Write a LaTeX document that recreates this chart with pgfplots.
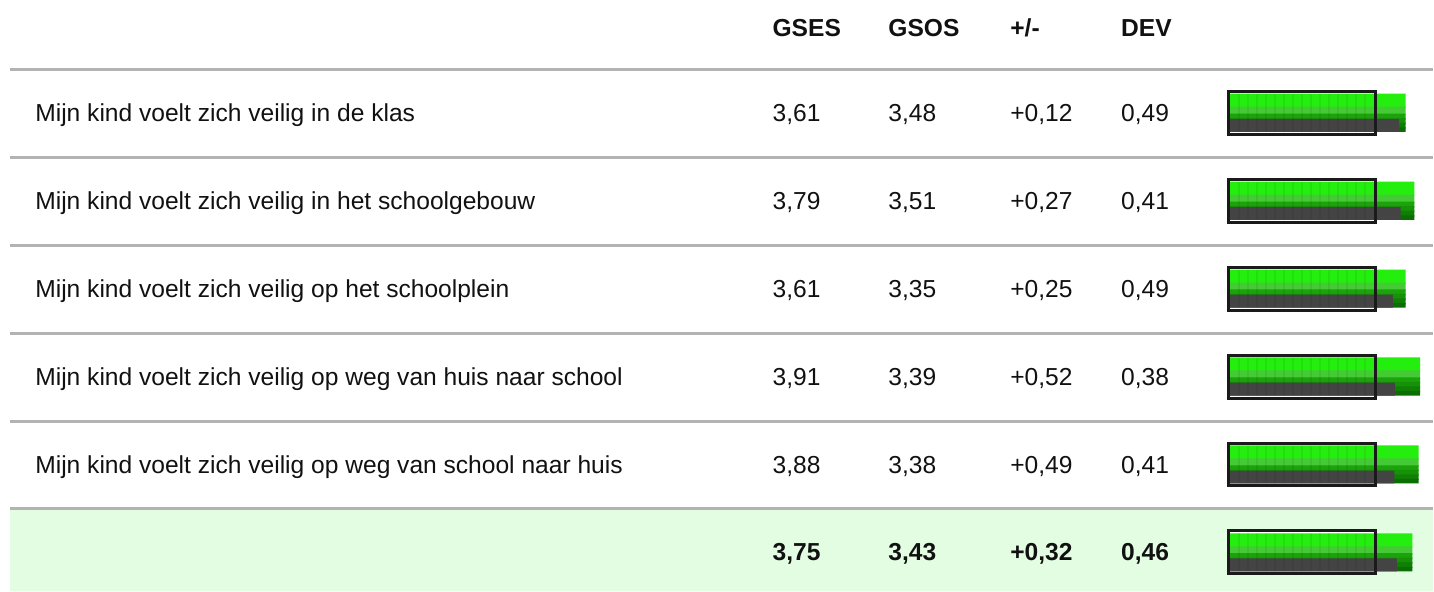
\documentclass[border=0pt]{standalone}
\usepackage{fontspec}
\setmainfont{Liberation Sans}
\usepackage{pgfplots}
\usepackage{pgfplotstable}
\pgfplotsset{compat=1.18}
\definecolor{sep}{HTML}{B3B3B3}
\definecolor{band}{HTML}{E3FDE3}
\definecolor{gbright}{HTML}{24EE0E}
\definecolor{gmid}{HTML}{44CA34}
\definecolor{gd1}{HTML}{1CA20A}
\definecolor{gd2}{HTML}{169208}
\definecolor{gd3}{HTML}{108005}
\definecolor{gd4}{HTML}{0A6E02}
\definecolor{gsos}{HTML}{444444}
\definecolor{frame}{HTML}{1A1A1A}
\definecolor{txt}{HTML}{111111}

\pgfplotstableread{
row gses gsos
0 3.61 3.48
1 3.79 3.51
2 3.61 3.35
3 3.91 3.39
4 3.88 3.38
5 3.75 3.43
}\bardata

\begin{document}
\begin{tikzpicture}[
  tx/.style={anchor=base west, inner sep=0pt, text=txt, font=\fontsize{12.3pt}{14pt}\selectfont},
  bx/.style={anchor=base west, inner sep=0pt, text=txt, font=\fontsize{12.3pt}{14pt}\selectfont\bfseries},
]
% ---------- table layer (pixel coordinates) ----------
\begin{axis}[
  at={(0,0)}, anchor=south west,
  width=717pt, height=296pt, scale only axis,
  xmin=0, xmax=1434, ymin=0, ymax=592, y dir=reverse,
  hide axis, clip=false,
]
\path[fill=white] (axis cs:0,0) rectangle (axis cs:1434,592);
\fill[band] (axis cs:10,510) rectangle (axis cs:1434,592);
\foreach \yy in {69.5,157.5,245.5,333.5,421.5,509.5}{
  \edef\tmp{\noexpand\draw[sep, line width=1.5pt] (axis cs:10,\yy) -- (axis cs:1434,\yy);}\tmp
}
% header
\node[bx] at (axis cs:773,36.5) {GSES};
\node[bx] at (axis cs:889,36.5) {GSOS};
\node[bx] at (axis cs:1011,36.5) {+/-};
\node[bx] at (axis cs:1122,36.5) {DEV};
% rows
\node[tx] at (axis cs:35,121.5) {Mijn kind voelt zich veilig in de klas};
\node[tx] at (axis cs:773,121.5) {3,61};
\node[tx] at (axis cs:889,121.5) {3,48};
\node[tx] at (axis cs:1011,121.5) {+0,12};
\node[tx] at (axis cs:1122,121.5) {0,49};

\node[tx] at (axis cs:35,209.5) {Mijn kind voelt zich veilig in het schoolgebouw};
\node[tx] at (axis cs:773,209.5) {3,79};
\node[tx] at (axis cs:889,209.5) {3,51};
\node[tx] at (axis cs:1011,209.5) {+0,27};
\node[tx] at (axis cs:1122,209.5) {0,41};

\node[tx] at (axis cs:35,297.5) {Mijn kind voelt zich veilig op het schoolplein};
\node[tx] at (axis cs:773,297.5) {3,61};
\node[tx] at (axis cs:889,297.5) {3,35};
\node[tx] at (axis cs:1011,297.5) {+0,25};
\node[tx] at (axis cs:1122,297.5) {0,49};

\node[tx] at (axis cs:35,385.5) {Mijn kind voelt zich veilig op weg van huis naar school};
\node[tx] at (axis cs:773,385.5) {3,91};
\node[tx] at (axis cs:889,385.5) {3,39};
\node[tx] at (axis cs:1011,385.5) {+0,52};
\node[tx] at (axis cs:1122,385.5) {0,38};

\node[tx] at (axis cs:35,473.5) {Mijn kind voelt zich veilig op weg van school naar huis};
\node[tx] at (axis cs:773,473.5) {3,88};
\node[tx] at (axis cs:889,473.5) {3,38};
\node[tx] at (axis cs:1011,473.5) {+0,49};
\node[tx] at (axis cs:1122,473.5) {0,41};

\node[bx] at (axis cs:773,561.5) {3,75};
\node[bx] at (axis cs:889,561.5) {3,43};
\node[bx] at (axis cs:1011,561.5) {+0,32};
\node[bx] at (axis cs:1122,561.5) {0,46};
\end{axis}

% ---------- bar layer (score units) ----------
\begin{axis}[
  at={(0,0)}, anchor=south west,
  width=717pt, height=296pt, scale only axis,
  xmin=-25.251282, xmax=4.164103,
  ymin=-1.289773, ymax=5.4375, y dir=reverse,
  hide axis, clip=false,
]
% white frame interiors
\pgfplotsinvokeforeach{0,...,5}{
  \fill[white] (axis cs:-0.0308,#1-0.25) rectangle (axis cs:2.999,#1+0.238636);
}
\addplot[xbar, draw=none, fill=gbright, bar width=0.1625, bar shift=-0.1420] table[x=gses, y=row] {\bardata};
\addplot[xbar, draw=none, fill=gmid, bar width=0.0945, bar shift=-0.0284] table[x=gses, y=row] {\bardata};
\addplot[xbar, draw=none, fill=gd1, bar width=0.068, bar shift=0.0369] table[x=gses, y=row] {\bardata};
\addplot[xbar, draw=none, fill=gd2, bar width=0.068, bar shift=0.0881] table[x=gses, y=row] {\bardata};
\addplot[xbar, draw=none, fill=gd3, bar width=0.068, bar shift=0.1392] table[x=gses, y=row] {\bardata};
\addplot[xbar, draw=none, fill=gd4, bar width=0.051136, bar shift=0.184659] table[x=gses, y=row] {\bardata};
\addplot[xbar, draw=none, fill=gsos, bar width=0.147727, bar shift=0.136364] table[x=gsos, y=row] {\bardata};
% stripes and frames
\pgfplotsinvokeforeach{0,...,5}{
  \foreach \k in {1,...,15}{
    \pgfmathsetmacro{\xs}{\k*9/48.75}
    \edef\tmp{\noexpand\draw[black, opacity=0.06, line width=1pt] (axis cs:\xs,#1-0.221591) -- (axis cs:\xs,#1+0.210227);}\tmp
  }
  \draw[frame, line width=1.5pt] (axis cs:-0.0308,#1-0.25) rectangle (axis cs:2.999,#1+0.238636);
}
\end{axis}
\end{tikzpicture}
\end{document}
